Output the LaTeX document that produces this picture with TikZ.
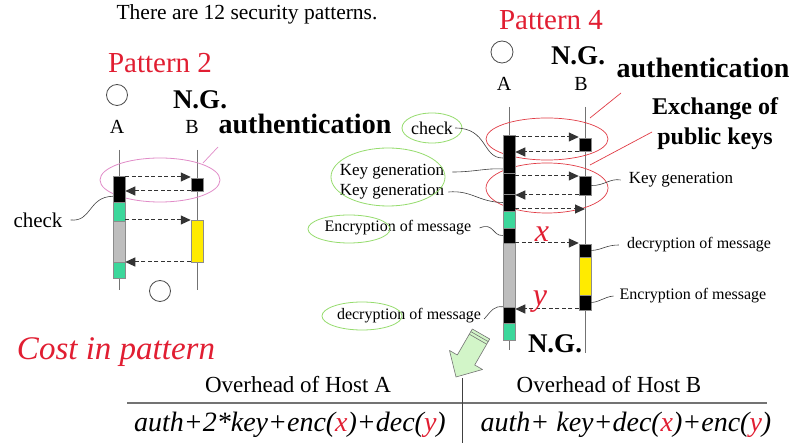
\documentclass[tikz,border=0pt]{standalone}
\usepackage{fontspec}
\setmainfont{Liberation Serif}
\usetikzlibrary{arrows.meta}
\definecolor{pred}{RGB}{225,30,50}
\definecolor{mgreen}{RGB}{60,215,155}
\definecolor{lgreen}{RGB}{150,220,110}
\definecolor{pinkc}{RGB}{225,140,200}
\definecolor{ellred}{RGB}{225,60,70}
\definecolor{barfill}{RGB}{190,190,190}
\definecolor{yel}{RGB}{255,235,0}
\definecolor{arrgreen}{RGB}{210,245,200}
\newcommand{\fsz}[1]{\fontsize{#1}{#1}\selectfont}
\begin{document}
\begin{tikzpicture}[x=1pt,y=-1pt,
  txt/.style={inner sep=0pt},
  life/.style={draw=black!55, line width=0.8pt},
  bar/.style={draw=black!45, line width=0.5pt, minimum width=12pt, inner sep=0pt},
  msg/.style={dash pattern=on 4pt off 2.5pt, draw=black!80, line width=1pt, -{Triangle[length=10pt,width=9pt]}},
  lead/.style={draw=black!75, line width=0.6pt},
  gell/.style={draw=lgreen, line width=0.8pt},
  rell/.style={draw=ellred, line width=0.7pt},
  okc/.style={circle, draw=black!70, line width=0.8pt, minimum size=21pt, inner sep=0pt}]
\useasboundingbox[fill=white] (0,0) rectangle (796,443);

% ---------------- title
\node[txt, font=\fsz{21.5}] (title) at (247,14) {There are 12 security patterns.};

% ---------------- Pattern 2
\node[txt, font=\fsz{29}, text=pred] (p2title) at (160,63) {Pattern 2};
\node[okc] (p2ok) at (117,95) {};
\node[txt, font=\fsz{27}\bfseries] (p2ng) at (200,100) {N.G.};
\node[txt, font=\fsz{20}] (p2A) at (117,127) {A};
\node[txt, font=\fsz{20}] (p2B) at (192,127) {B};
\node[txt, font=\fsz{28}\bfseries] (p2auth) at (305,124) {authentication};

\coordinate (p2LAt) at (119,150); \coordinate (p2LAb) at (119,290);
\coordinate (p2LBt) at (197,150); \coordinate (p2LBb) at (197,290);
\draw[life] (p2LAt) -- (p2LAb);
\draw[life] (p2LBt) -- (p2LBb);

\draw[draw=pinkc, line width=0.8pt] (160,180) ellipse [x radius=60, y radius=22];
\coordinate (p2pk1) at (203,163); \coordinate (p2pk2) at (218,147);
\draw[draw=pinkc, line width=0.7pt] (p2pk1) -- (p2pk2);

\node[bar, fill=black,   minimum height=26pt] (p2a1) at (119,189) {};
\node[bar, fill=mgreen,  minimum height=19pt] (p2a2) at (119,211.5) {};
\node[bar, fill=barfill, minimum height=41pt] (p2a3) at (119,241.5) {};
\node[bar, fill=mgreen,  minimum height=16pt] (p2a4) at (119,270) {};
\node[bar, fill=black,   minimum height=13pt] (p2b1) at (197,184.5) {};
\node[bar, fill=yel,     minimum height=42pt] (p2b2) at (197,241) {};

\draw[msg] (p2a1.east |- 0,177) -- (p2b1.west |- 0,177);
\draw[msg] (p2b1.west |- 0,191) -- (p2a1.east |- 0,191);
\draw[msg] (p2a2.east |- 0,220) -- (p2b2.west |- 0,220);
\draw[msg] (p2b2.west |- 0,262) -- (p2a3.east |- 0,262);

\node[txt, font=\fsz{21}] (p2check) at (38,220) {check};
\draw[lead] ([xshift=8pt]p2check.east) .. controls (92,222) and (88,197) .. ([yshift=6pt]p2a1.south west);

\node[okc] (p2ok2) at (160,291) {};

% ---------------- Pattern 4
\node[txt, font=\fsz{29}, text=pred] (p4title) at (551,20) {Pattern 4};
\node[okc, minimum size=22pt] (p4ok) at (502,52) {};
\node[txt, font=\fsz{27}\bfseries] (p4ng) at (578,56) {N.G.};
\node[txt, font=\fsz{20}] (p4A) at (504,84) {A};
\node[txt, font=\fsz{20}] (p4B) at (581,84) {B};
\node[txt, font=\fsz{28}\bfseries] (p4auth) at (703,68) {authentication};
\node[txt, font=\fsz{24}\bfseries, align=center] (p4ex) at (715,124) {Exchange of\\[6pt]public keys};

\coordinate (p4LAt) at (509,107); \coordinate (p4LAb) at (509,350);
\coordinate (p4LBt) at (585,107); \coordinate (p4LBb) at (585,353);
\draw[life] (p4LAt) -- (p4LAb);
\draw[life] (p4LBt) -- (p4LBb);

\draw[rell] (547,139) ellipse [x radius=61, y radius=21];
\draw[rell] (547,188) ellipse [x radius=61, y radius=25];
\coordinate (p4r1a) at (590,118); \coordinate (p4r1b) at (621,93);
\coordinate (p4r2a) at (590,165); \coordinate (p4r2b) at (652,132);
\draw[draw=ellred, line width=0.7pt] (p4r1a) -- (p4r1b);
\draw[draw=ellred, line width=0.7pt] (p4r2a) -- (p4r2b);

\node[bar, fill=black,   minimum height=38pt] (p4a1) at (509,154) {};
\node[bar, fill=black,   minimum height=21pt] (p4a2) at (509,183.5) {};
\node[bar, fill=black,   minimum height=17pt] (p4a3) at (509,202.5) {};
\node[bar, fill=mgreen,  minimum height=17pt] (p4a4) at (509,219.5) {};
\node[bar, fill=black,   minimum height=15pt] (p4a5) at (509,235.5) {};
\node[bar, fill=barfill, minimum height=64pt] (p4a6) at (509,275) {};
\node[bar, fill=black,   minimum height=16pt] (p4a7) at (509,315) {};
\node[bar, fill=mgreen,  minimum height=17pt] (p4a8) at (509,331.5) {};

\node[bar, fill=black, minimum height=13pt] (p4b1) at (585,144.5) {};
\node[bar, fill=black, minimum height=19pt] (p4b2) at (585,185.5) {};
\node[bar, fill=black, minimum height=13pt] (p4b3) at (585,250.5) {};
\node[bar, fill=yel,   minimum height=38pt] (p4b4) at (585,276) {};
\node[bar, fill=black, minimum height=15pt] (p4b5) at (585,302.5) {};

\draw[msg] (p4a1.east |- 0,137) -- (p4b1.west |- 0,137);
\draw[msg] (p4b1.west |- 0,152) -- (p4a1.east |- 0,152);
\draw[msg] (p4a2.east |- 0,176) -- (p4b2.west |- 0,176);
\draw[msg] (p4b2.west |- 0,195) -- (p4a3.east |- 0,195);
\draw[msg] (p4a3.east |- 0,209) -- (p4LBt |- 0,209);
\draw[msg] (p4a5.east |- 0,243) -- (p4b3.west |- 0,243);
\draw[msg] (p4b5.west |- 0,309) -- (p4a7.east |- 0,309);

\node[txt, font=\fsz{32}\itshape, text=pred] (p4x) at (542,234) {x};
\node[txt, font=\fsz{32}\itshape, text=pred] (p4y) at (540,302) {y};

% left labels
\node[txt, font=\fsz{18}] (p4check) at (432,128) {check};
\draw[gell] (432,128) ellipse [x radius=30, y radius=15];
\draw[lead] ([xshift=2pt]p4check.east) .. controls (488,128) and (482,158) .. ([yshift=-4pt]p4a1.west);

\node[txt, font=\fsz{17}] (p4kg1) at (392,172) {Key generation};
\node[txt, font=\fsz{17}] (p4kg2) at (392,192) {Key generation};
\draw[gell] (388,177) ellipse [x radius=57, y radius=29];
\draw[lead] ([xshift=8pt]p4kg1.east) .. controls (475,172) and (485,168) .. ([yshift=-15pt]p4a1.west);
\draw[lead] ([xshift=4pt]p4kg2.east) .. controls (472,190) and (478,202) .. (p4a3.west);

\node[txt, font=\fsz{16}] (p4encL) at (398,228) {Encryption of message};
\draw[gell] (349,229) ellipse [x radius=41, y radius=14];
\draw[lead] ([xshift=8pt]p4encL.east) .. controls (494,222) and (492,236) .. (p4a5.west);

\node[txt, font=\fsz{16}] (p4decL) at (409,316) {decryption of message};
\draw[gell] (362,316) ellipse [x radius=40, y radius=14];
\draw[lead] ([xshift=3pt,yshift=-3pt]p4decL.east) .. controls (492,310) and (494,306) .. (p4a7.north west);

% right labels
\node[txt, font=\fsz{17}] (p4kgR) at (681,180) {Key generation};
\draw[lead] (p4b2.east) .. controls (604,186) and (610,178) .. ([xshift=-8pt]p4kgR.west);
\node[txt, font=\fsz{16}] (p4decR) at (699,245) {decryption of message};
\draw[lead] (p4b3.east) .. controls (602,250) and (606,245) .. ([xshift=-8pt]p4decR.west);
\node[txt, font=\fsz{16}] (p4encR) at (693,296) {Encryption of message};
\draw[lead] (p4b5.east) .. controls (600,302) and (604,297) .. ([xshift=-6pt]p4encR.west);

\node[txt, font=\fsz{27}\bfseries] (p4ng2) at (555,344) {N.G.};

% green block arrow (pointing down-left)
\draw[fill=arrgreen, draw=black!55, line width=0.6pt, line join=round]
  (472.3,329) -- (489.7,339) -- (474.7,365) -- (482.5,369.5) -- (456,377)
  -- (449.5,350.5) -- (457.3,355) -- cycle;
\draw[draw=black!55, line width=0.6pt] (470.8,331.6) -- (488.2,341.6);
\draw[draw=black!55, line width=0.6pt] (469.3,334.2) -- (486.7,344.2);

% ---------------- cost table
\node[txt, font=\fsz{33}\itshape, text=pred] (cost) at (116,352) {Cost in pattern};
\node[txt, font=\fsz{23}] (hA) at (298,385) {Overhead of Host A};
\node[txt, font=\fsz{23}] (hB) at (609,385) {Overhead of Host B};
\coordinate (hl1) at (127,403); \coordinate (hl2) at (767,403);
\draw[draw=black!55, line width=1.4pt] (hl1) -- (hl2);
\coordinate (vl1) at (462,378); \coordinate (vl2) at (462,443);
\draw[draw=black!75, line width=0.8pt] (vl1) -- (vl2);
\node[txt, font=\fsz{28}\itshape] (rA) at (290,425)
  {auth+2*key+enc(\textcolor{pred}{x})+dec(\textcolor{pred}{y})};
\node[txt, font=\fsz{28}\itshape] (rB) at (626,425)
  {auth+ key+dec(\textcolor{pred}{x})+enc(\textcolor{pred}{y})};
\end{tikzpicture}
\end{document}
